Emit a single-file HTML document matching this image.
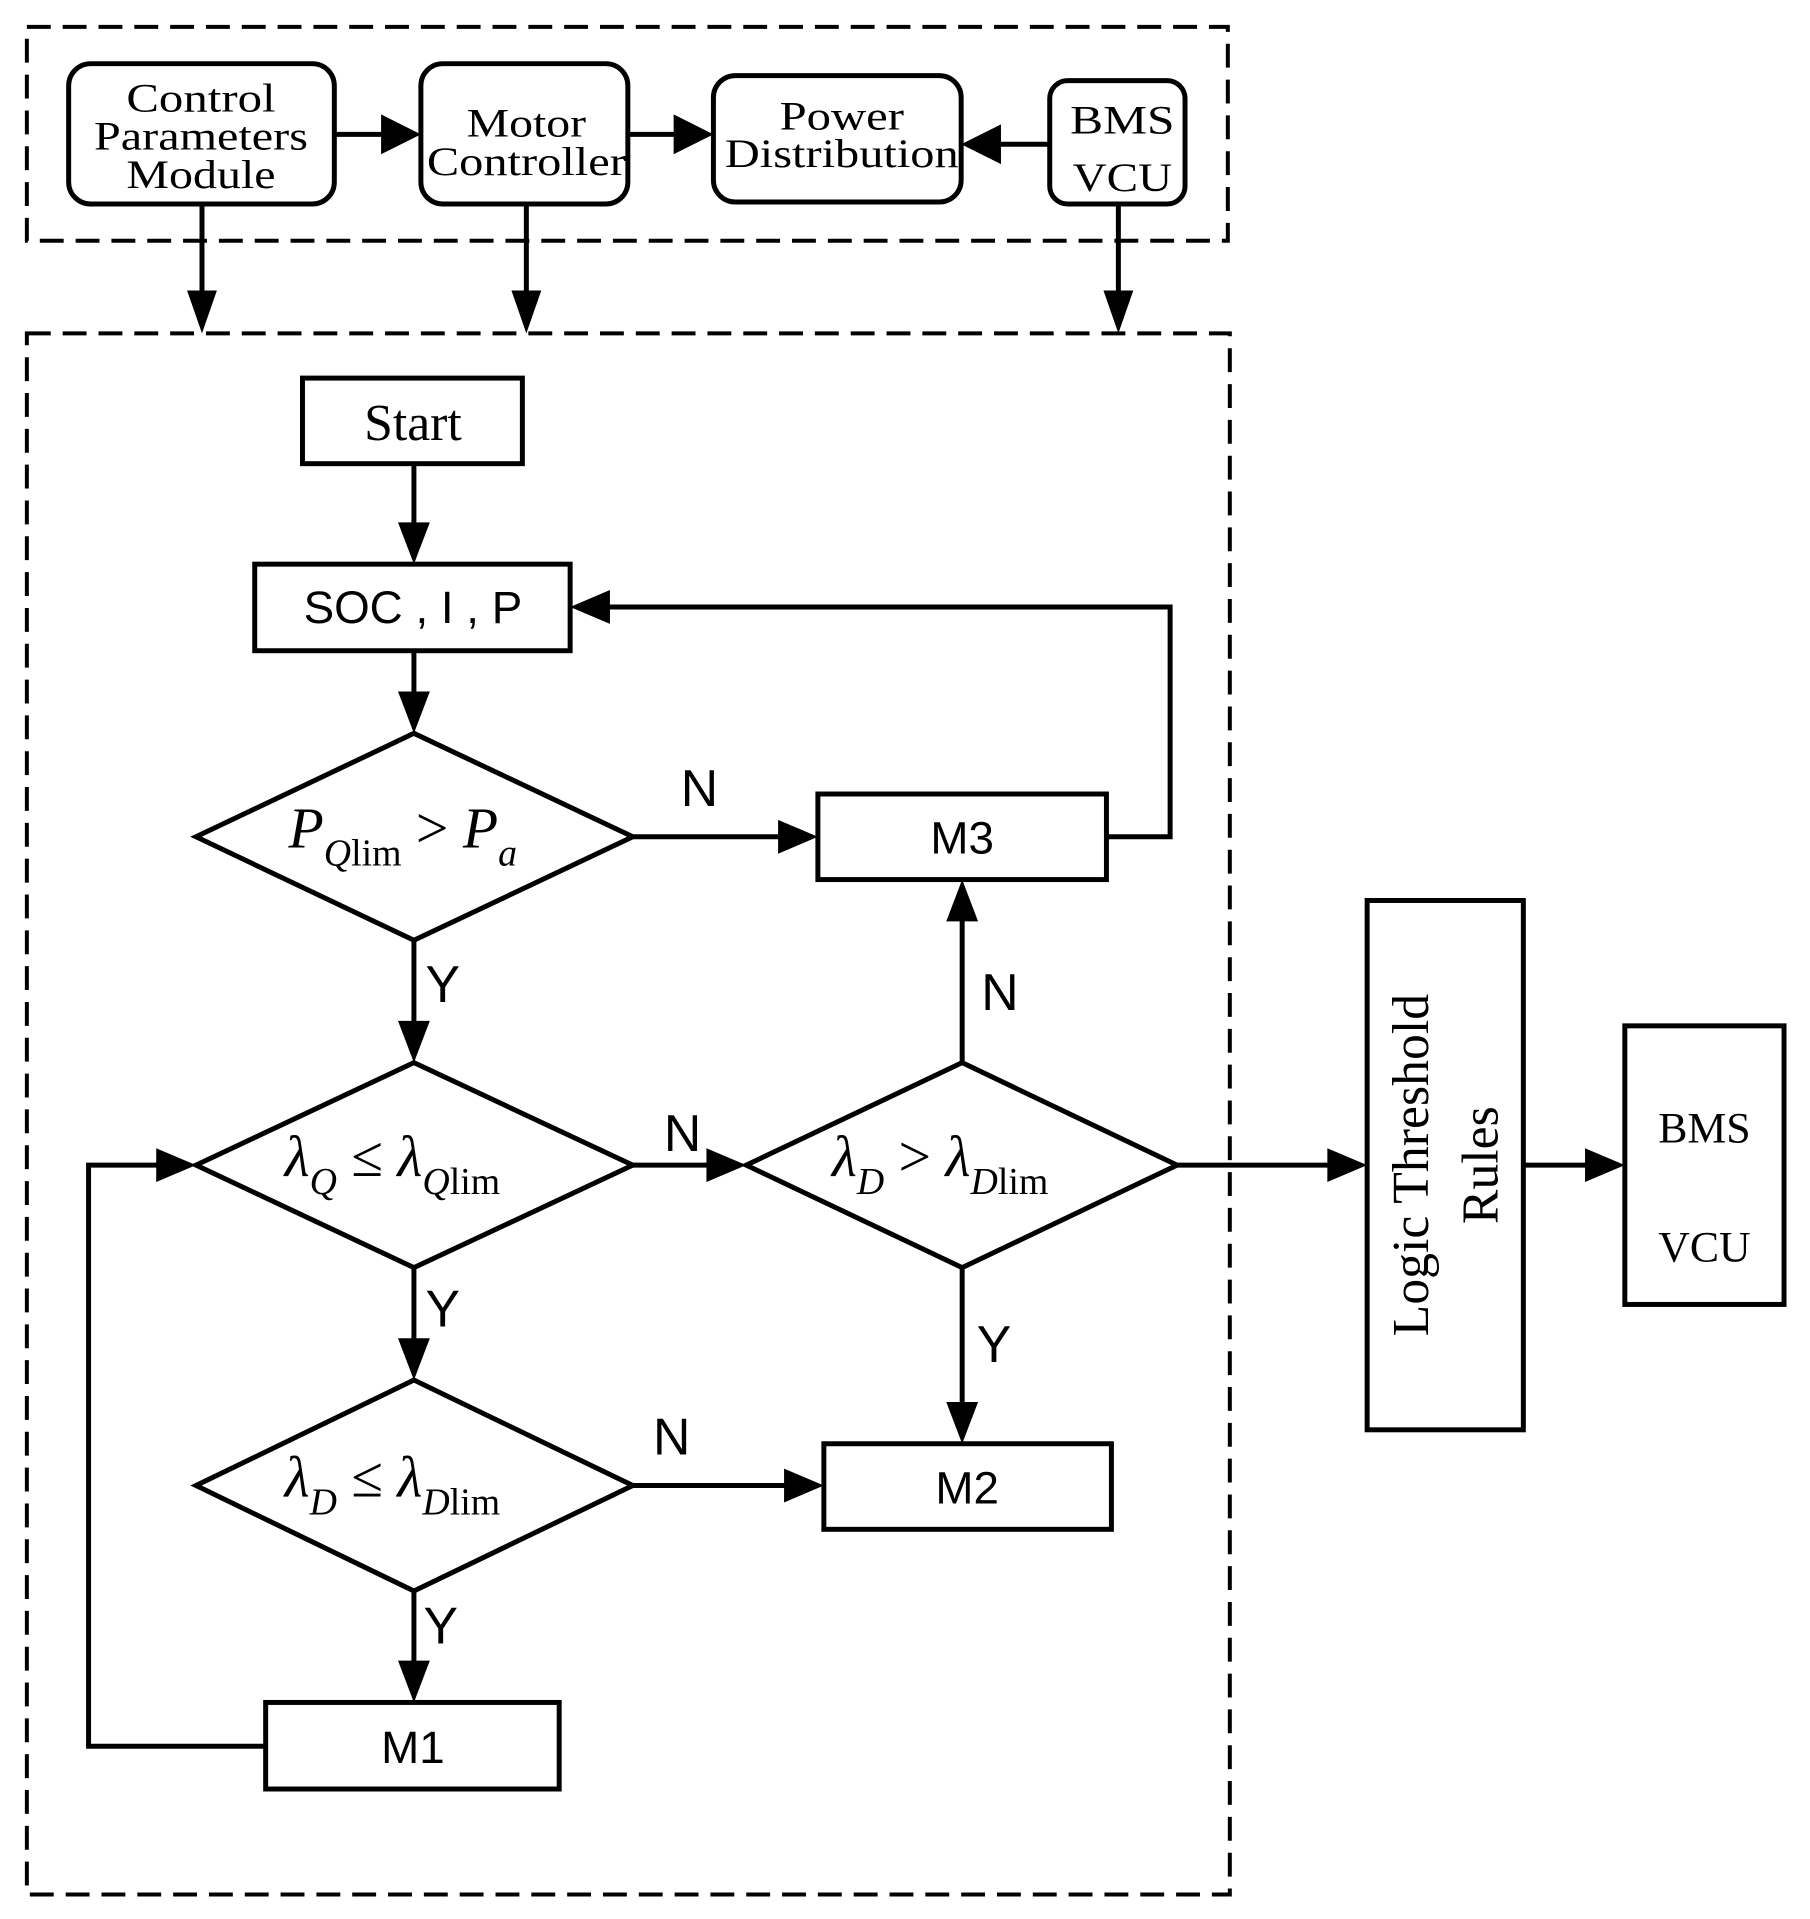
<!DOCTYPE html>
<html><head><meta charset="utf-8"><style>html,body{margin:0;padding:0;background:#fff}svg{display:block}</style></head>
<body>
<svg width="1810" height="1919" viewBox="0 0 1810 1919" xmlns="http://www.w3.org/2000/svg">
<g transform="scale(0.995)">
<g fill="none" stroke="#000" stroke-width="4" stroke-dasharray="24,12">
<rect x="27" y="27" width="1207" height="215"/>
<rect x="27" y="335" width="1209" height="1569"/>
</g>
<g fill="#fff" stroke="#000" stroke-width="5">
<rect x="69" y="64" width="267" height="141" rx="22"/>
<rect x="423" y="64" width="208" height="141" rx="22"/>
<rect x="717" y="76" width="249" height="127" rx="22"/>
<rect x="1055" y="81" width="136" height="124" rx="18"/>
<rect x="304" y="380" width="221" height="86"/>
<rect x="256" y="567" width="317" height="87"/>
<rect x="822" y="798" width="290" height="86"/>
<rect x="828" y="1451" width="289" height="86"/>
<rect x="267" y="1711" width="295" height="87"/>
<rect x="1374" y="905" width="157" height="532"/>
<rect x="1633" y="1031" width="160" height="280"/>
<polygon points="197,841 416,737 636,841 416,945"/>
<polygon points="197,1171 416,1068 636,1171 416,1274"/>
<polygon points="750,1171 967,1068 1183,1171 967,1274"/>
<polygon points="197,1493 416,1387 636,1493 416,1599"/>
</g>
<g stroke="#000" stroke-width="5" fill="none">
<line x1="336" y1="135" x2="390" y2="135"/>
<line x1="631" y1="135" x2="685" y2="135"/>
<line x1="1055" y1="145" x2="1000" y2="145"/>
<line x1="203" y1="205" x2="203" y2="295"/>
<line x1="529" y1="205" x2="529" y2="295"/>
<line x1="1124" y1="205" x2="1124" y2="295"/>
<line x1="416" y1="466" x2="416" y2="530"/>
<line x1="416" y1="654" x2="416" y2="700"/>
<line x1="636" y1="841" x2="785" y2="841"/>
<polyline points="1112,841 1176,841 1176,610 610,610"/>
<line x1="416" y1="945" x2="416" y2="1030"/>
<line x1="636" y1="1171" x2="712" y2="1171"/>
<line x1="967" y1="1068" x2="967" y2="922"/>
<line x1="416" y1="1274" x2="416" y2="1350"/>
<line x1="967" y1="1274" x2="967" y2="1413"/>
<line x1="636" y1="1493" x2="790" y2="1493"/>
<line x1="416" y1="1599" x2="416" y2="1673"/>
<polyline points="267,1755 89,1755 89,1171 158,1171"/>
<line x1="1183" y1="1171" x2="1336" y2="1171"/>
<line x1="1531" y1="1171" x2="1595" y2="1171"/>
</g>
<g fill="#000">
<polygon points="423,135 383,115 383,155"/>
<polygon points="717,135 677,115 677,155"/>
<polygon points="966,145 1006,125 1006,165"/>
<polygon points="203,335 188,292 218,292"/>
<polygon points="529,335 514,292 544,292"/>
<polygon points="1124,335 1109,292 1139,292"/>
<polygon points="416,567 400,525 432,525"/>
<polygon points="416,737 400,695 432,695"/>
<polygon points="822,841 782,824 782,858"/>
<polygon points="573,610 613,593 613,627"/>
<polygon points="416,1068 400,1026 432,1026"/>
<polygon points="750,1171 710,1154 710,1188"/>
<polygon points="967,884 951,926 983,926"/>
<polygon points="197,1171 157,1154 157,1188"/>
<polygon points="416,1387 400,1345 432,1345"/>
<polygon points="967,1451 951,1409 983,1409"/>
<polygon points="828,1493 788,1476 788,1510"/>
<polygon points="416,1711 400,1669 432,1669"/>
<polygon points="1374,1171 1334,1154 1334,1188"/>
<polygon points="1633,1171 1593,1154 1593,1188"/>
</g>
<g font-family="Liberation Serif, serif" font-size="40" text-anchor="middle" fill="#000">
<text x="202" y="112" textLength="150" lengthAdjust="spacingAndGlyphs">Control</text>
<text x="202" y="150" textLength="215" lengthAdjust="spacingAndGlyphs">Parameters</text>
<text x="202" y="189" textLength="150" lengthAdjust="spacingAndGlyphs">Module</text>
<text x="529" y="137" textLength="120" lengthAdjust="spacingAndGlyphs">Motor</text>
<text x="529" y="176" textLength="200" lengthAdjust="spacingAndGlyphs">Controller</text>
<text x="846" y="130" textLength="125" lengthAdjust="spacingAndGlyphs">Power</text>
<text x="846" y="168" textLength="235" lengthAdjust="spacingAndGlyphs">Distribution</text>
<text x="1128" y="134" textLength="105" lengthAdjust="spacingAndGlyphs">BMS</text>
<text x="1128" y="192" textLength="100" lengthAdjust="spacingAndGlyphs">VCU</text>
<text x="415" y="442" font-size="52">Start</text>
<text x="1713" y="1148" font-size="44">BMS</text>
<text x="1713" y="1268" font-size="44">VCU</text>
<text transform="translate(1435,1171) rotate(-90)" font-size="52">Logic Threshold</text>
<text transform="translate(1505,1171) rotate(-90)" font-size="52">Rules</text>
</g>
<g font-family="Liberation Serif, serif" font-style="italic" fill="#000" font-size="58">
<text x="290" y="852">P<tspan font-size="38" dy="18">Q</tspan><tspan font-style="normal" font-size="38">lim</tspan><tspan dy="-18" font-style="normal"> &gt; </tspan>P<tspan font-size="38" dy="18">a</tspan></text>
<text x="286" y="1182">λ<tspan font-size="38" dy="18">Q</tspan><tspan dy="-18" font-style="normal"> ≤ </tspan>λ<tspan font-size="38" dy="18">Q</tspan><tspan font-style="normal" font-size="38">lim</tspan></text>
<text x="836" y="1182">λ<tspan font-size="38" dy="18">D</tspan><tspan dy="-18" font-style="normal"> &gt; </tspan>λ<tspan font-size="38" dy="18">D</tspan><tspan font-style="normal" font-size="38">lim</tspan></text>
<text x="286" y="1504">λ<tspan font-size="38" dy="18">D</tspan><tspan dy="-18" font-style="normal"> ≤ </tspan>λ<tspan font-size="38" dy="18">D</tspan><tspan font-style="normal" font-size="38">lim</tspan></text>
</g>
<g font-family="Liberation Sans, sans-serif" fill="#000" font-size="46" text-anchor="middle">
<text x="415" y="626">SOC , I , P</text>
<text x="967" y="858">M3</text>
<text x="972" y="1511">M2</text>
<text x="415" y="1772">M1</text>
</g>
<g font-family="Liberation Sans, sans-serif" fill="#000" font-size="52" text-anchor="middle">
<text x="703" y="810">N</text>
<text x="445" y="1007">Y</text>
<text x="1005" y="1015">N</text>
<text x="686" y="1157">N</text>
<text x="445" y="1333">Y</text>
<text x="999" y="1369">Y</text>
<text x="675" y="1462">N</text>
<text x="443" y="1652">Y</text>
</g>
</g>
</svg>
</body></html>
